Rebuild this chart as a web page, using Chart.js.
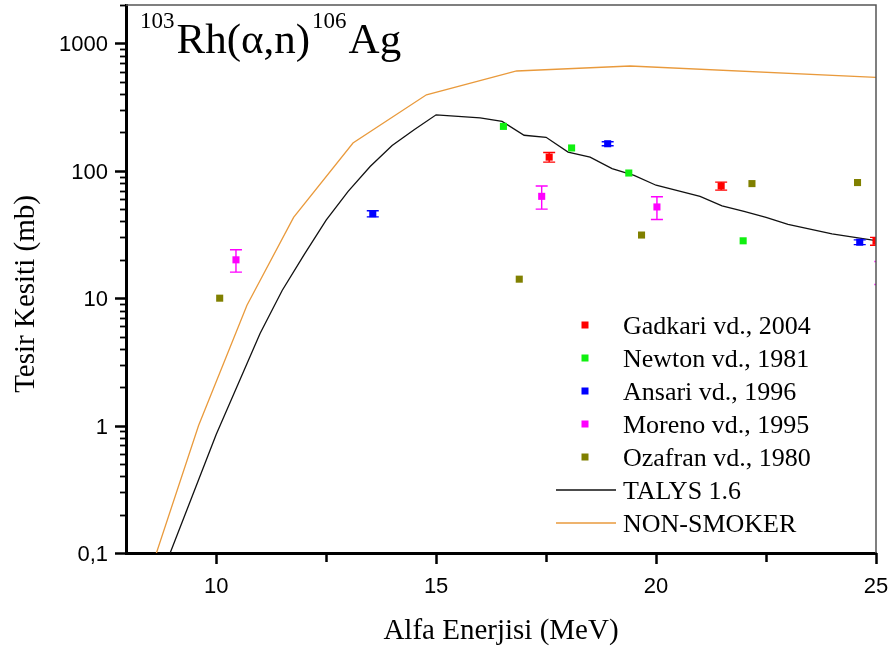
<!DOCTYPE html>
<html>
<head>
<meta charset="utf-8">
<script src="https://cdn.jsdelivr.net/npm/chart.js@4.4.0/dist/chart.umd.min.js"></script>
<style>
  html, body { margin: 0; padding: 0; background: #fff; }
</style>
</head>
<body>
<canvas id="graph" width="893" height="652"></canvas>
<script>
/* ---------------- axes ---------------- */
const xMin = 7.95, xMax = 25;
const yMin = 0.1, yMax = 2000;
const xTicks = [10, 15, 20, 25];
const xTickLabels = ['10', '15', '20', '25'];
const xMinorTicks = [12.5, 17.5, 22.5];
const yTicks = [0.1, 1, 10, 100, 1000];
const yTickLabels = ['0,1', '1', '10', '100', '1000'];

/* ---------------- deneysel veriler (MeV, mb) ---------------- */
const gadkariE = [17.57, 21.48, 25.0];
const gadkariCs = [128, 76, 28];
const gadkariErr = [11, 5.5, 2];

const newtonE = [16.53, 18.08, 19.38, 21.98];
const newtonCs = [223, 151, 96, 28.2];

const ansariE = [13.56, 18.9, 24.63];
const ansariCs = [46, 163, 27.5];
const ansariErr = [2.5, 6, 1.2];

const morenoE = [10.45, 17.4, 20.02, 25.1];
const morenoCs = [20, 63, 52, 16.1];
const morenoErr = [4, 13, 10.5, 3.3];

const ozafranE = [10.08, 16.89, 19.67, 22.18, 24.58];
const ozafranCs = [10, 14.1, 31.3, 79.3, 80.8];

/* ---------------- teorik hesaplar ---------------- */
const talysE = [8.5, 9, 10, 11, 11.5, 12, 12.5, 13, 13.5, 14, 14.5, 15, 15.5, 16, 16.5, 17, 17.5, 18, 18.5, 19, 19.5, 20, 21, 21.5, 22, 22.5, 23, 24, 25];
const talysCs = [0.04, 0.11, 0.85, 5.3, 11.5, 22, 41, 69, 108, 158, 210, 275, 267, 260, 244, 190, 183, 140, 128, 104, 92, 77, 63, 53, 48, 43, 38, 32, 28.3];

const nsE = [8.4, 9.6, 10.7, 11.76, 13.11, 14.78, 16.83, 19.41, 25];
const nsCs = [0.056, 1.0, 8.8, 43, 165, 395, 607, 664, 541];

function points(xs, ys) {
    return xs.map((e, i) => ({ x: e, y: ys[i] }));
}

function marker(label, xs, ys, color, errs) {
    return {
        label: label,
        data: points(xs, ys),
        errors: errs,
        pointStyle: 'rect',
        pointRadius: 5,
        pointBorderWidth: 0,
        pointBackgroundColor: color,
        pointBorderColor: color,
        borderColor: color,
        backgroundColor: color,
        showLine: false,
        clip: 0
    };
}

function curve(label, xs, ys, color) {
    return {
        label: label,
        data: points(xs, ys),
        showLine: true,
        borderColor: color,
        backgroundColor: color,
        borderWidth: 1.3,
        pointRadius: 0,
        tension: 0
    };
}

/* ---------------- hata çubukları ---------------- */
const errorBars = {
    id: 'errorBars',
    afterDatasetsDraw(chart) {
        const { ctx, chartArea: a, scales: { x, y } } = chart;
        ctx.save();
        ctx.beginPath();
        ctx.rect(a.left, a.top, a.right - a.left, a.bottom - a.top);
        ctx.clip();
        ctx.lineWidth = 1.4;
        chart.data.datasets.forEach(ds => {
            if (!ds.errors) return;
            ctx.strokeStyle = ds.borderColor;
            ds.data.forEach((p, i) => {
                const px = x.getPixelForValue(p.x);
                const top = y.getPixelForValue(p.y + ds.errors[i]);
                const bot = y.getPixelForValue(p.y - ds.errors[i]);
                ctx.beginPath();
                ctx.moveTo(px, top); ctx.lineTo(px, bot);
                ctx.moveTo(px - 6, top); ctx.lineTo(px + 6, top);
                ctx.moveTo(px - 6, bot); ctx.lineTo(px + 6, bot);
                ctx.stroke();
            });
        });
        ctx.restore();
    }
};

/* ---------------- çerçeve, tikler, etiketler, başlıklar, lejant ---------------- */
const decor = {
    id: 'decor',
    afterDraw(chart) {
        const { ctx, chartArea: a, scales: { x, y } } = chart;
        ctx.save();

        // üst ve sağ çerçeve
        ctx.strokeStyle = '#555';
        ctx.lineWidth = 1.5;
        ctx.beginPath();
        ctx.moveTo(a.left, a.top);
        ctx.lineTo(a.right, a.top);
        ctx.lineTo(a.right, a.bottom);
        ctx.stroke();

        // y tikleri
        ctx.strokeStyle = '#000';
        ctx.lineWidth = 2.5;
        yTicks.forEach(v => {
            const py = Math.round(y.getPixelForValue(v)) + 0.5;
            ctx.beginPath(); ctx.moveTo(a.left - 11, py); ctx.lineTo(a.left, py); ctx.stroke();
        });
        ctx.lineWidth = 1.8;
        for (let d = 0.1; d < yMax; d *= 10) {
            for (let k = 2; k <= 9; k++) {
                const v = k * d;
                if (v > yMax) break;
                const py = Math.round(y.getPixelForValue(v)) + 0.5;
                ctx.beginPath(); ctx.moveTo(a.left - 6, py); ctx.lineTo(a.left, py); ctx.stroke();
            }
        }

        // x tikleri
        ctx.lineWidth = 2.5;
        xTicks.forEach(v => {
            const px = Math.round(x.getPixelForValue(v)) + 0.5;
            ctx.beginPath(); ctx.moveTo(px, a.bottom); ctx.lineTo(px, a.bottom + 11); ctx.stroke();
        });
        xMinorTicks.forEach(v => {
            const px = Math.round(x.getPixelForValue(v)) + 0.5;
            ctx.beginPath(); ctx.moveTo(px, a.bottom); ctx.lineTo(px, a.bottom + 9); ctx.stroke();
        });

        // tik etiketleri
        ctx.fillStyle = '#000';
        ctx.font = '22px "Liberation Sans"';
        ctx.textBaseline = 'alphabetic';
        ctx.textAlign = 'right';
        yTicks.forEach((v, i) => {
            ctx.fillText(yTickLabels[i], a.left - 18, y.getPixelForValue(v) + 8);
        });
        ctx.textAlign = 'center';
        xTicks.forEach((v, i) => {
            ctx.fillText(xTickLabels[i], x.getPixelForValue(v), a.bottom + 40);
        });

        // eksen başlıkları
        ctx.font = '29px "Liberation Serif"';
        ctx.fillText('Alfa Enerjisi (MeV)', 501, 639);
        ctx.save();
        ctx.translate(34, 294);
        ctx.rotate(-Math.PI / 2);
        ctx.fillText('Tesir Kesiti (mb)', 0, 0);
        ctx.restore();

        // reaksiyon başlığı
        ctx.textAlign = 'left';
        const parts = [['103', 23, 28], ['Rh(α,n)', 43, 53], ['106', 23, 28], ['Ag', 43, 53]];
        let tx = 140;
        parts.forEach(p => {
            ctx.font = p[1] + 'px "Liberation Serif"';
            ctx.fillText(p[0], tx, p[2]);
            tx += ctx.measureText(p[0]).width + 2;
        });

        // lejant
        ctx.font = '26px "Liberation Serif"';
        chart.data.datasets.forEach((ds, i) => {
            const rowY = 325 + i * 33;
            if (ds.showLine) {
                ctx.strokeStyle = ds.borderColor;
                ctx.lineWidth = 1.3;
                ctx.beginPath(); ctx.moveTo(556, rowY); ctx.lineTo(616, rowY); ctx.stroke();
            } else {
                ctx.fillStyle = ds.backgroundColor;
                ctx.fillRect(581.5, rowY - 3.5, 7, 7);
            }
            ctx.fillStyle = '#000';
            ctx.fillText(ds.label, 623, rowY + 9);
        });

        ctx.restore();
    }
};

const ctx = document.getElementById('graph').getContext('2d');

const myChart = new Chart(ctx, {
    type: 'scatter',
    data: {
        datasets: [
            marker('Gadkari vd., 2004', gadkariE, gadkariCs, '#ff0000', gadkariErr),
            marker('Newton vd., 1981', newtonE, newtonCs, '#10f010'),
            marker('Ansari vd., 1996', ansariE, ansariCs, '#0000ff', ansariErr),
            marker('Moreno vd., 1995', morenoE, morenoCs, '#ff00ff', morenoErr),
            marker('Ozafran vd., 1980', ozafranE, ozafranCs, '#808000'),
            curve('TALYS 1.6', talysE, talysCs, '#111111'),
            curve('NON-SMOKER', nsE, nsCs, '#e99a3c')
        ]
    },
    options: {
        responsive: false,
        animation: false,
        layout: { padding: { top: 1, right: 17, left: 0, bottom: 0 } },
        plugins: {
            legend: { display: false },
            tooltip: { enabled: false }
        },
        scales: {
            x: {
                type: 'linear',
                min: xMin,
                max: xMax,
                afterBuildTicks: s => { s.ticks = xTicks.map(v => ({ value: v })); },
                afterFit: s => { s.height = 99; },
                grid: { display: false },
                border: { display: true, color: '#000', width: 3 },
                ticks: { display: false }
            },
            y: {
                type: 'logarithmic',
                min: yMin,
                max: yMax,
                afterBuildTicks: s => { s.ticks = yTicks.map(v => ({ value: v })); },
                afterFit: s => { s.width = 126; },
                grid: { display: false },
                border: { display: true, color: '#000', width: 3 },
                ticks: { display: false }
            }
        }
    },
    plugins: [errorBars, decor]
});
</script>
</body>
</html>
